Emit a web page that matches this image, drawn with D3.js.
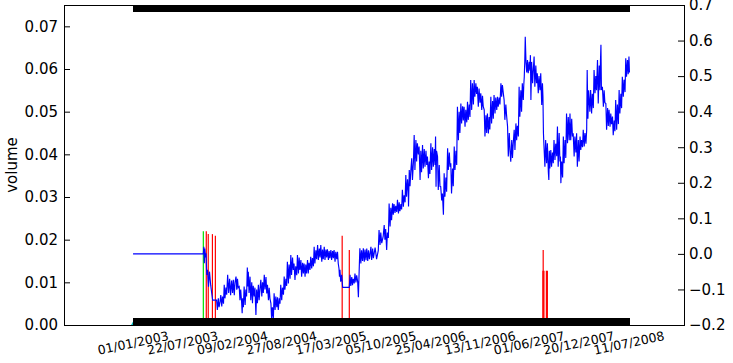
<!DOCTYPE html>
<html>
<head>
<meta charset="utf-8">
<script src="https://cdn.jsdelivr.net/npm/d3@7"></script>
<style>
  body { margin: 0; background: #fff; }
  text { font-family: "DejaVu Sans", sans-serif; fill: #000; }
</style>
</head>
<body>
<div id="chart"></div>
<script>
// date tick labels under the x axis
var dateLabels = ['01/01/2003', '22/07/2003', '09/02/2004', '27/08/2004', '17/03/2005',
  '05/10/2005', '25/04/2006', '13/11/2006', '01/06/2007', '20/12/2007', '11/07/2008'];
var volumeTicks = [0, 0.01, 0.02, 0.03, 0.04, 0.05, 0.06, 0.07];
var returnTicks = [-0.2, -0.1, 0, 0.1, 0.2, 0.3, 0.4, 0.5, 0.6, 0.7];

// days are counted from 01/01/2003
var greenDays = [286];
var greenVolume = [0.022];
var redDays = [298, 306, 323, 335, 851, 880, 1668, 1672, 1682, 1686, 1669];
var redVolume = [0.022, 0.0213, 0.0213, 0.0209, 0.0209, 0.0176, 0.0127, 0.0127, 0.0127, 0.0127, 0.0176];
var cyanDays = [-8, 0];
var cyanVolume = [0, 0.0008];

// [day, value] (right axis)
var returns = [
  [0,0],[286,0],
  [288,0.020],[290,-0.026],[292,0.015],[295,-0.010],[297,0.002],[300,-0.059],
  [303,-0.045],[307,-0.092],[311,-0.050],[316,-0.088],[320,-0.110],[324,-0.130],[340,-0.130],
  [343,-0.158],[347,-0.125],[350,-0.150],[354,-0.135],[357,-0.116],[361,-0.148],[364,-0.120],[368,-0.140],
  [371,-0.087],[374,-0.125],[378,-0.095],[381,-0.115],[385,-0.059],[389,-0.110],[393,-0.070],[397,-0.116],[401,-0.075],
  [405,-0.110],[408,-0.073],[412,-0.116],[415,-0.080],[419,-0.064],[422,-0.101],[425,-0.070],[428,-0.095],
  [432,-0.092],[435,-0.130],[438,-0.100],[442,-0.139],[444,-0.167],[446,-0.125],[449,-0.150],
  [452,-0.092],[456,-0.144],[459,-0.100],[462,-0.120],[465,-0.038],[467,-0.092],[469,-0.050],
  [472,-0.110],[476,-0.064],[479,-0.130],[483,-0.080],[486,-0.139],[489,-0.090],
  [493,-0.120],[496,-0.095],[500,-0.172],[503,-0.100],[506,-0.139],[510,-0.087],[513,-0.130],[517,-0.095],
  [520,-0.073],[524,-0.120],[527,-0.080],[530,-0.110],[534,-0.059],[537,-0.100],[541,-0.065],[544,-0.111],
  [547,-0.087],[551,-0.130],[554,-0.095],[557,-0.125],[561,-0.139],[564,-0.184],[567,-0.150],[571,-0.182],
  [574,-0.111],[578,-0.158],[581,-0.120],[585,-0.150],[588,-0.122],[591,-0.158],[595,-0.125],[598,-0.140],
  [601,-0.087],[605,-0.130],[608,-0.095],[612,-0.115],[615,-0.064],[618,-0.101],[622,-0.070],[625,-0.090],
  [628,-0.022],[632,-0.083],[635,-0.030],[639,-0.070],[642,-0.003],[645,-0.059],[649,-0.010],[652,-0.045],
  [655,-0.027],[659,-0.073],[662,-0.035],[666,-0.060],[669,-0.003],[673,-0.055],[676,-0.010],[679,-0.045],
  [683,-0.017],[686,-0.064],[690,-0.025],[693,-0.055],[696,-0.027],[700,-0.064],[703,-0.030],[706,-0.055],
  [710,-0.017],[713,-0.055],[716,-0.025],[720,-0.045],[723,-0.008],[727,-0.041],[730,-0.012],[734,-0.035],
  [737,0.020],[740,-0.027],[744,0.010],[747,-0.015],[751,0.025],[754,-0.017],[758,0.015],[761,-0.010],
  [764,0.025],[768,-0.022],[771,0.012],[774,-0.015],[778,0.020],[781,-0.017],[785,0.012],[788,-0.010],
  [791,0.013],[795,-0.017],[798,0.008],[801,-0.012],[805,0.011],[808,-0.017],[812,0.008],[815,-0.012],
  [818,0.011],[822,-0.022],[825,0.006],[829,-0.015],[832,0.006],[835,-0.027],
  [838,-0.041],[840,-0.064],[842,-0.045],[845,-0.078],[849,-0.059],[853,-0.094],[880,-0.094],
  [883,-0.059],[886,-0.090],[890,-0.065],[893,-0.088],[896,-0.070],
  [900,-0.083],[903,-0.055],[907,-0.080],[910,-0.060],[914,-0.078],[917,-0.122],[920,-0.050],
  [923,0.016],[927,-0.027],[930,0.010],[934,-0.020],[937,0.016],[941,-0.022],[944,0.012],[948,-0.018],
  [951,0.015],[955,-0.020],[958,0.010],[962,-0.015],[968,0.020],[971,-0.017],[975,0.015],[978,-0.012],
  [985,0.018],[991,-0.015],[998,0.010],
  [1001,0.067],[1005,0.025],[1008,0.060],[1012,0.030],[1018,0.050],
  [1022,0.081],[1025,0.040],[1028,0.070],[1032,0.011],[1035,0.060],[1039,0.045],
  [1042,0.142],[1046,0.077],[1049,0.130],[1052,0.095],
  [1056,0.142],[1059,0.110],[1062,0.140],[1066,0.115],[1069,0.135],[1073,0.118],
  [1076,0.152],[1080,0.114],[1083,0.145],[1086,0.120],[1090,0.140],[1093,0.125],
  [1096,0.180],[1100,0.133],[1103,0.165],[1107,0.145],[1110,0.222],[1113,0.161],[1117,0.210],[1120,0.175],
  [1121,0.133],[1124,0.236],[1127,0.190],[1130,0.230],[1134,0.269],[1137,0.208],[1141,0.260],
  [1144,0.334],[1147,0.236],[1151,0.320],[1154,0.260],[1157,0.311],[1161,0.280],
  [1164,0.302],[1168,0.208],[1171,0.290],[1174,0.230],
  [1178,0.306],[1181,0.240],[1185,0.295],[1188,0.245],[1192,0.290],[1195,0.250],
  [1198,0.274],[1202,0.213],[1205,0.260],[1208,0.225],
  [1212,0.311],[1215,0.236],[1219,0.300],[1222,0.245],[1226,0.295],[1229,0.250],
  [1231,0.330],[1233,0.189],[1235,0.290],[1239,0.274],[1242,0.180],[1246,0.250],[1249,0.190],
  [1252,0.189],[1256,0.150],[1259,0.170],[1263,0.110],[1266,0.227],[1269,0.161],[1273,0.215],[1276,0.175],
  [1280,0.297],[1283,0.236],[1287,0.285],[1290,0.245],[1293,0.255],[1296,0.170],[1300,0.240],[1303,0.190],
  [1307,0.302],[1310,0.236],[1314,0.290],[1317,0.250],[1320,0.414],[1324,0.320],[1327,0.400],[1330,0.340],
  [1334,0.423],[1337,0.367],[1341,0.415],[1344,0.375],[1347,0.414],[1351,0.358],[1354,0.405],[1358,0.370],
  [1361,0.428],[1364,0.377],[1368,0.420],[1371,0.385],[1374,0.489],[1378,0.405],[1381,0.480],[1385,0.420],
  [1388,0.489],[1391,0.442],[1395,0.480],[1398,0.450],[1401,0.470],[1405,0.414],[1408,0.465],[1412,0.425],
  [1415,0.452],[1419,0.405],[1422,0.445],[1425,0.415],[1429,0.405],[1432,0.330],[1436,0.390],[1439,0.340],
  [1442,0.395],[1446,0.339],[1449,0.385],[1452,0.350],[1456,0.442],[1459,0.367],[1463,0.430],[1466,0.380],
  [1469,0.447],[1473,0.395],[1476,0.440],[1480,0.405],[1483,0.442],[1486,0.414],[1490,0.440],[1493,0.420],
  [1497,0.480],[1500,0.442],[1503,0.475],[1507,0.450],[1510,0.433],[1513,0.377],[1517,0.420],[1520,0.390],
  [1524,0.358],[1527,0.274],[1531,0.340],[1534,0.290],[1537,0.259],[1541,0.320],[1544,0.270],[1547,0.310],
  [1551,0.349],[1554,0.292],[1558,0.367],[1561,0.320],[1564,0.360],[1568,0.330],
  [1571,0.470],[1574,0.386],[1578,0.460],[1581,0.400],[1584,0.480],[1588,0.433],[1590,0.475],
  [1592,0.498],[1594,0.540],[1596,0.611],[1599,0.540],[1602,0.510],
  [1605,0.545],[1608,0.508],[1612,0.540],[1615,0.515],[1617,0.559],[1619,0.433],[1622,0.540],[1626,0.480],[1629,0.520],
  [1632,0.555],[1635,0.470],[1639,0.530],[1642,0.480],[1645,0.508],[1649,0.452],[1652,0.500],[1656,0.460],
  [1659,0.508],[1663,0.419],[1666,0.480],[1668,0.442],[1670,0.340],[1672,0.306],
  [1676,0.245],[1679,0.320],[1683,0.255],[1686,0.311],[1690,0.230],[1692,0.208],[1694,0.290],[1696,0.240],
  [1700,0.292],[1703,0.245],[1707,0.285],[1710,0.255],[1713,0.320],[1717,0.264],[1720,0.310],[1724,0.275],
  [1727,0.358],[1730,0.245],[1734,0.340],[1737,0.260],[1739,0.274],[1741,0.199],[1744,0.260],[1748,0.215],
  [1751,0.330],[1754,0.255],[1758,0.320],[1761,0.270],[1764,0.395],[1768,0.311],[1771,0.385],[1775,0.320],
  [1778,0.395],[1781,0.320],[1785,0.380],[1788,0.330],[1791,0.339],[1795,0.274],[1798,0.330],[1802,0.285],
  [1805,0.339],[1808,0.245],[1812,0.320],[1815,0.260],[1819,0.330],[1822,0.292],[1825,0.320],[1829,0.300],
  [1832,0.349],[1836,0.302],[1839,0.340],[1843,0.310],[1846,0.349],[1848,0.517],[1851,0.380],[1854,0.460],[1859,0.400],
  [1862,0.461],[1866,0.395],[1869,0.450],[1873,0.410],[1876,0.517],[1880,0.452],[1883,0.500],[1886,0.460],
  [1890,0.545],[1893,0.423],[1897,0.530],[1900,0.460],[1902,0.540],[1904,0.588],[1906,0.461],
  [1910,0.470],[1914,0.414],[1917,0.460],[1920,0.425],[1924,0.423],[1927,0.349],[1931,0.410],[1934,0.360],
  [1937,0.405],[1941,0.358],[1944,0.395],[1947,0.365],[1951,0.386],[1954,0.334],[1958,0.375],[1961,0.345],
  [1964,0.433],[1968,0.349],[1971,0.420],[1975,0.365],[1978,0.461],[1981,0.395],[1985,0.450],[1988,0.410],
  [1991,0.498],[1995,0.442],[1998,0.490],[2002,0.455],[2005,0.550],[2008,0.498],[2012,0.545],[2015,0.505],
  [2018,0.555],[2020,0.510]
];

var width = 733, height = 363;
var plotLeft = 64, plotRight = 684, plotTop = 5, plotBottom = 325;

var parseDate = d3.utcParse('%d/%m/%Y');
var day0 = parseDate('01/01/2003');
function toDate(d) { return d3.utcDay.offset(day0, d); }

var svg = d3.select('#chart').append('svg')
  .attr('width', width)
  .attr('height', height);

var x = d3.scaleUtc()
  .domain([toDate(-281), toDate(2242)])
  .range([plotLeft, plotRight]);
var yVol = d3.scaleLinear().domain([0, 0.075]).range([plotBottom, plotTop]);
var yRet = d3.scaleLinear().domain([-0.2, 0.7]).range([plotBottom, plotTop]);

svg.append('clipPath').attr('id', 'plot')
  .append('rect')
  .attr('x', plotLeft).attr('y', plotTop)
  .attr('width', plotRight - plotLeft).attr('height', plotBottom - plotTop);

var plot = svg.append('g').attr('clip-path', 'url(#plot)');

// small cyan patch at the start
var cyan = cyanDays.map(function(d, i) { return [d, cyanVolume[i]]; });
plot.append('path')
  .datum(cyan)
  .attr('fill', '#00bfbf')
  .attr('d', d3.area()
    .x(function(d) { return x(toDate(d[0])); })
    .y0(yVol(0))
    .y1(function(d) { return yVol(d[1]); }));

// volume bars
function bars(days, vals, color) {
  plot.selectAll(null)
    .data(days)
    .enter().append('line')
    .attr('x1', function(d) { return x(toDate(d)); })
    .attr('x2', function(d) { return x(toDate(d)); })
    .attr('y1', yVol(0))
    .attr('y2', function(d, i) { return yVol(vals[i]); })
    .attr('stroke', color)
    .attr('stroke-width', 1.2);
}
bars(greenDays, greenVolume, '#00e000');
bars(redDays, redVolume, '#ff0000');

plot.append('path')
  .datum(returns)
  .attr('fill', 'none')
  .attr('stroke', '#0000ff')
  .attr('stroke-width', 1.15)
  .attr('d', d3.line()
    .x(function(d) { return x(toDate(d[0])); })
    .y(function(d) { return yRet(d[1]); }));

// dense daily ticks make the black bands at top and bottom
var dailyTicks = d3.utcDay.range(parseDate(dateLabels[0]),
  d3.utcDay.offset(parseDate(dateLabels[dateLabels.length - 1]), 1));

var bandBottom = svg.append('g')
  .attr('transform', 'translate(0,' + plotBottom + ')')
  .call(d3.axisBottom(x).tickValues(dailyTicks).tickSize(-7).tickFormat(''));
var bandTop = svg.append('g')
  .attr('transform', 'translate(0,' + plotTop + ')')
  .call(d3.axisTop(x).tickValues(dailyTicks).tickSize(-7).tickFormat(''));
[bandBottom, bandTop].forEach(function(g) {
  g.select('.domain').remove();
  g.selectAll('.tick line').attr('stroke', '#000');
});

// left axis (volume)
var axL = svg.append('g')
  .attr('transform', 'translate(' + plotLeft + ',0)')
  .call(d3.axisLeft(yVol).tickValues(volumeTicks).tickSize(-6).tickPadding(6)
    .tickFormat(d3.format('.2f')));
axL.select('.domain').remove();
axL.selectAll('text').attr('font-size', 15).attr('font-family', 'DejaVu Sans');

// right axis (returns)
var axR = svg.append('g')
  .attr('transform', 'translate(' + plotRight + ',0)')
  .call(d3.axisRight(yRet).tickValues(returnTicks).tickSize(-6).tickPadding(5)
    .tickFormat(function(d) { return d3.format('.1f')(d).replace('-', '\u2212'); }));
axR.select('.domain').remove();
axR.selectAll('text').attr('font-size', 15).attr('font-family', 'DejaVu Sans');

// frame
svg.append('rect')
  .attr('x', plotLeft + 0.5).attr('y', plotTop + 0.5)
  .attr('width', plotRight - plotLeft).attr('height', plotBottom - plotTop)
  .attr('fill', 'none')
  .attr('stroke', '#000')
  .attr('stroke-width', 1);

// rotated date labels
svg.selectAll('.dlab')
  .data(dateLabels)
  .enter().append('text')
  .attr('class', 'dlab')
  .attr('transform', function(d) { return 'translate(' + x(parseDate(d)) + ',343) rotate(-12)'; })
  .attr('text-anchor', 'middle')
  .attr('dy', '0.35em')
  .attr('font-size', 12.5)
  .text(function(d) { return d; });

svg.append('text')
  .attr('transform', 'translate(17,165) rotate(-90)')
  .attr('text-anchor', 'middle')
  .attr('font-size', 15)
  .text('volume');
</script>
</body>
</html>
